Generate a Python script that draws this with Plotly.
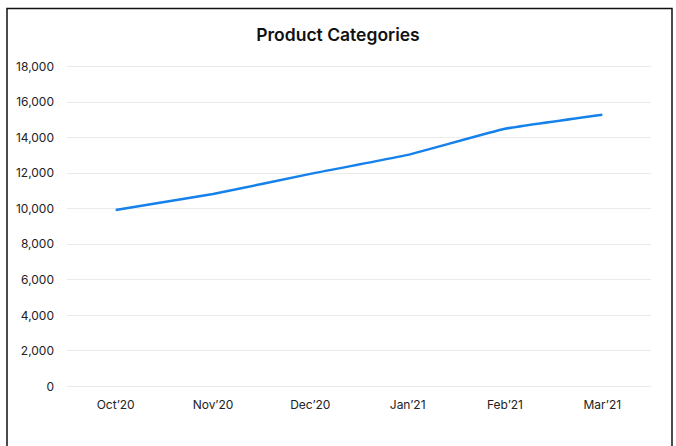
import plotly.graph_objects as go

months = ["Oct’20", "Nov’20", "Dec’20", "Jan’21", "Feb’21", "Mar’21"]
values = [9930, 10830, 11960, 13030, 14500, 15290]
y_ticks = [0, 2000, 4000, 6000, 8000, 10000, 12000, 14000, 16000, 18000]

W, H = 676, 446
pad = 200  # data units of padding so edge gridlines are drawn
ppu = (386 - 67) / 18000
L, R = 67, 25
T = 67 - pad * ppu
B = (H - 386) - pad * ppu
pw, ph = W - L - R, H - T - B

fig = go.Figure()
fig.add_trace(go.Scatter(x=months, y=values, mode="lines",
                         line=dict(color="#1581ea", width=2.5, shape="spline", smoothing=0.3),
                         hoverinfo="x+y"))

fig.update_layout(
    width=W, height=H,
    margin=dict(l=L, r=R, t=T, b=B),
    paper_bgcolor="white", plot_bgcolor="white",
    showlegend=False,
    font=dict(family="Inter, sans-serif", size=12, color="#222"),
    title=dict(text="Product Categories", x=0.5, xanchor="center",
               y=1 - 35 / H, yanchor="middle",
               font=dict(size=17.5, color="#111", weight=600)),
    xaxis=dict(type="category", range=[-0.5, 5.5], showgrid=False, zeroline=False,
               showline=False, ticks="", ticklabelstandoff=6,
               tickfont=dict(size=12, color="#222")),
    yaxis=dict(range=[-pad, 18000 + pad], tickvals=y_ticks,
               ticktext=[f"{v:,}" for v in y_ticks],
               showgrid=True, gridcolor="#ebebeb", gridwidth=1,
               zeroline=False, showline=False, ticks="", ticklabelstandoff=12,
               tickfont=dict(size=12, color="#222")),
)

fig.add_shape(type="rect", xref="paper", yref="paper",
              x0=(7 - L) / pw, x1=(672 - L) / pw,
              y0=(H - B - 460) / ph, y1=(H - B - 9) / ph,
              line=dict(color="#111", width=1.5), fillcolor="rgba(0,0,0,0)", layer="above")

fig.write_html("out.html")
